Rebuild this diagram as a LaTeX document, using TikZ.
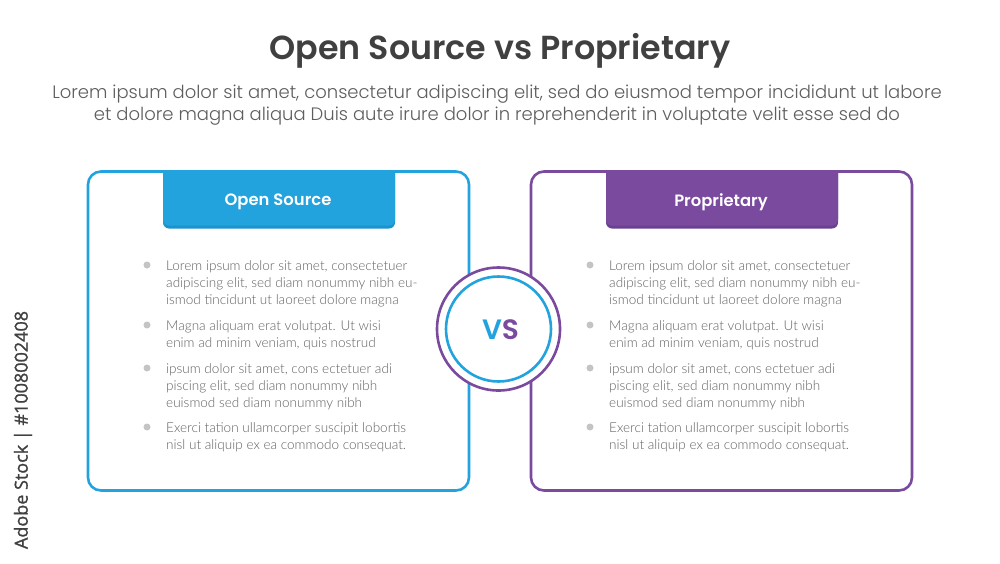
\documentclass[tikz,border=0pt]{standalone}
\usepackage{fontspec}
\setmainfont{Lato Light}
\newfontfamily\pop{Poppins SemiBold}
\newfontfamily\popl{Poppins Light}
\newfontfamily\ops[FakeBold=1.2]{Open Sans}
\usetikzlibrary{calc}
\definecolor{bluec}{HTML}{22A3DE}
\definecolor{blued}{HTML}{1B93CC}
\definecolor{purpc}{HTML}{7A4A9E}
\definecolor{purpd}{HTML}{6C4090}
\definecolor{titlec}{HTML}{404040}
\definecolor{subc}{HTML}{5E5E5E}
\definecolor{bodyc}{HTML}{606060}
\definecolor{dotc}{HTML}{C4C4C4}
\tikzset{
  x=1pt,y=-1pt,
  panel/.style={draw=#1,line width=2.6pt,rounded corners=13pt,fill=white},
  bodytext/.style={anchor=north west,text=bodyc,font=\fontsize{13.55}{17}\selectfont,inner sep=0pt,align=left},
  bullet/.style={circle,fill=dotc,inner sep=0pt,minimum size=7pt},
  headtext/.style={text=white,font=\pop\fontsize{16.4}{18}\selectfont,inner sep=0pt},
  subline/.style={text=subc,font=\popl\fontsize{18}{22}\selectfont,inner sep=0pt},
}
\newcommand{\tabshape}[3]{%
  \begin{scope}
  \clip (#1-1,171) rectangle (#1+233,230);
  \fill[#3,rounded corners=6pt] (#1,150) rectangle (#1+232,228.5);
  \fill[#2,rounded corners=6pt] (#1,150) rectangle (#1+232,225.5);
  \end{scope}
}
\newcommand{\listblock}[2]{%
  \node[bullet] (#2d1) at (#1,265) {};
  \node[bodytext] (#2t1) at (#1+19,260.5) {Lorem ipsum dolor sit amet, consectetuer\\adipiscing elit, sed diam nonummy nibh eu-\\ismod tincidunt ut laoreet dolore magna};
  \node[bullet] (#2d2) at (#1,325) {};
  \node[bodytext] (#2t2) at (#1+19,320.5) {Magna aliquam erat volutpat. Ut wisi\\enim ad minim veniam, quis nostrud};
  \node[bullet] (#2d3) at (#1,368) {};
  \node[bodytext] (#2t3) at (#1+19,363.5) {ipsum dolor sit amet, cons ectetuer adi\\piscing elit, sed diam nonummy nibh\\euismod sed diam nonummy nibh};
  \node[bullet] (#2d4) at (#1,427) {};
  \node[bodytext] (#2t4) at (#1+19,422.5) {Exerci tation ullamcorper suscipit lobortis\\nisl ut aliquip ex ea commodo consequat.};
}
\begin{document}
\begin{tikzpicture}
\useasboundingbox[fill=white] (0,0) rectangle (1000,563);
\node[text=titlec,font=\pop\fontsize{33.3}{40}\selectfont,inner sep=0pt] (title) at (500,51) {Open Source vs Proprietary};
\node[subline] (sub1) at (497,94) {Lorem ipsum dolor sit amet, consectetur adipiscing elit, sed do eiusmod tempor incididunt ut labore};
\node[subline] (sub2) at (497,116) {et dolore magna aliqua Duis aute irure dolor in reprehenderit in voluptate velit esse sed do};
\node[panel=bluec,minimum width=381pt,minimum height=319pt,inner sep=0pt] (left) at (278.5,331) {};
\node[panel=purpc,minimum width=381pt,minimum height=319pt,inner sep=0pt] (right) at (721.5,331) {};
\tabshape{163}{bluec}{blued}
\tabshape{606}{purpc}{purpd}
\node[headtext] (lh) at (278,202) {Open Source};
\node[headtext] (rh) at (721,202) {Proprietary};
\listblock{147}{a}
\listblock{590}{b}
\node[circle,draw=purpc,line width=2.6pt,fill=white,minimum size=123pt,inner sep=0pt] (outer) at (498.5,329) {};
\node[circle,draw=bluec,line width=2.6pt,fill=white,minimum size=105pt,inner sep=0pt] (inner) at (498.5,329) {};
\node[inner sep=0pt,font=\pop\fontsize{28}{30}\selectfont] (vs) at (500.5,330) {\textcolor{bluec}{V}\textcolor{purpc}{S}};
\node[rotate=90,text=titlec,font=\ops\fontsize{18}{20}\selectfont,inner sep=0pt] (credit) at (23,430) {Adobe Stock | \#1008002408};
\end{tikzpicture}
\end{document}
